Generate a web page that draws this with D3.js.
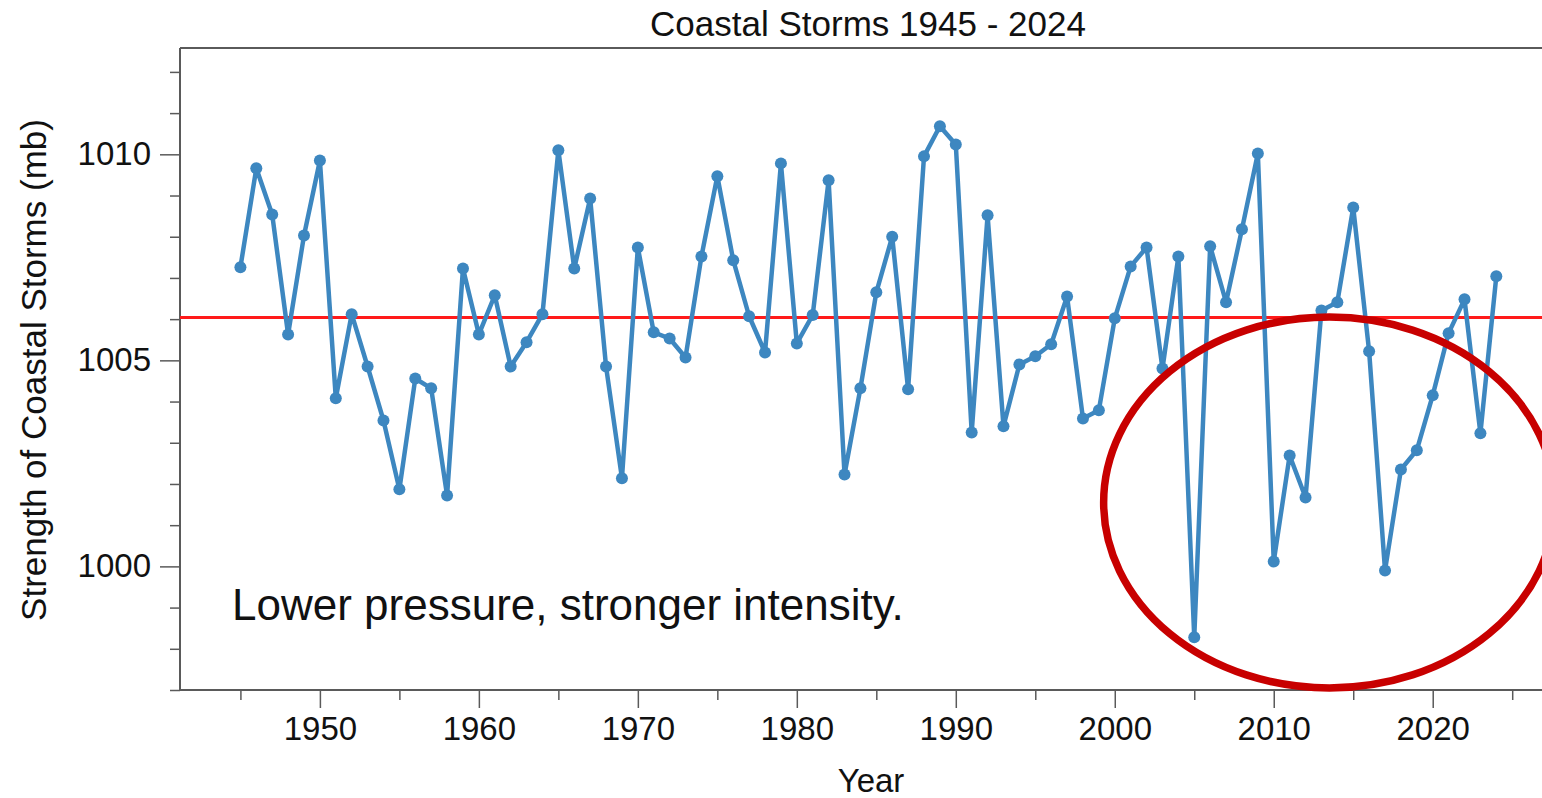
<!DOCTYPE html>
<html>
<head>
<meta charset="utf-8">
<script src="https://cdn.jsdelivr.net/npm/d3@7"></script>
<style>
  html, body { margin: 0; padding: 0; background: #fff; }
  svg { display: block; }
  text { font-family: "Liberation Sans", Arial, Helvetica, sans-serif; fill: #111; }
</style>
</head>
<body>
<svg id="chart" width="1542" height="798"></svg>
<script>
// ---- data ----
const years = d3.range(1945, 2025);
const pressure = [
  1007.26, 1009.66, 1008.54, 1005.63, 1008.03, 1009.85, 1004.08, 1006.12, 1004.85, 1003.54,
  1001.87, 1004.56, 1004.32, 1001.72, 1007.23, 1005.63, 1006.58, 1004.85, 1005.44, 1006.12,
  1010.10, 1007.23, 1008.93, 1004.85, 1002.14, 1007.74, 1005.68, 1005.53, 1005.07, 1007.52,
  1009.47, 1007.43, 1006.07, 1005.19, 1009.78, 1005.41, 1006.10, 1009.37, 1002.23, 1004.32,
  1006.65, 1008.00, 1004.30, 1009.95, 1010.68, 1010.24, 1003.25, 1008.52, 1003.40, 1004.90,
  1005.10, 1005.39, 1006.55, 1003.59, 1003.79, 1006.02, 1007.28, 1007.74, 1004.80, 1007.52,
   998.28, 1007.77, 1006.41, 1008.18, 1010.02, 1000.12, 1002.69, 1001.67, 1006.21, 1006.41,
  1008.71, 1005.22,  999.90, 1002.35, 1002.82, 1004.15, 1005.66, 1006.48, 1003.23, 1007.04
];
const meanLine = 1006.04;
const xMajorTicks = [1950, 1960, 1970, 1980, 1990, 2000, 2010, 2020];
const xMinorTicks = [1945, 1955, 1965, 1975, 1985, 1995, 2005, 2015, 2025];
const yMajorTicks = [1000, 1005, 1010];
const yMinorTicks = [997, 998, 999, 1001, 1002, 1003, 1004, 1006, 1007, 1008, 1009, 1011, 1012];
const titleText = "Coastal Storms 1945 - 2024";
const xLabel = "Year";
const yLabel = "Strength of Coastal Storms (mb)";
const noteText = "Lower pressure, stronger intensity.";
// highlighted region (ellipse): centre and half-extents in data units
const highlight = { cx: 2013.5, cy: 1001.55, rx: 14.2, ry: 4.5 };

const data = years.map((yr, i) => ({ year: yr, value: pressure[i] }));

// ---- layout ----
const svg = d3.select("#chart");
const plotLeft = 180, plotRight = 1544, plotTop = 48, plotBottom = 690;

const x = d3.scaleLinear().domain([1941.2, 2027.0]).range([plotLeft, plotRight]);
const y = d3.scaleLinear().domain([997.0, 1012.58]).range([plotBottom, plotTop]);

const axisColor = "#5a5a5a";

// frame top/right lines
svg.append("line")
  .attr("x1", plotLeft).attr("x2", plotRight).attr("y1", plotTop).attr("y2", plotTop)
  .attr("stroke", axisColor).attr("stroke-width", 2);
svg.append("line")
  .attr("x1", plotRight).attr("x2", plotRight).attr("y1", plotTop).attr("y2", plotBottom)
  .attr("stroke", axisColor).attr("stroke-width", 2);

// y axis
const gyMinor = svg.append("g").attr("transform", `translate(${plotLeft},0)`)
  .call(d3.axisLeft(y).tickValues(yMinorTicks).tickSize(10).tickFormat(""));
const gy = svg.append("g").attr("transform", `translate(${plotLeft},0)`)
  .call(d3.axisLeft(y).tickValues(yMajorTicks).tickSize(20).tickPadding(9).tickFormat(d3.format("d")));

// x axis
const gxMinor = svg.append("g").attr("transform", `translate(0,${plotBottom})`)
  .call(d3.axisBottom(x).tickValues(xMinorTicks).tickSize(10).tickFormat(""));
const gx = svg.append("g").attr("transform", `translate(0,${plotBottom})`)
  .call(d3.axisBottom(x).tickValues(xMajorTicks).tickSize(18).tickPadding(9).tickFormat(d3.format("d")));

[gy, gyMinor, gx, gxMinor].forEach(g => {
  g.select(".domain").attr("stroke", axisColor).attr("stroke-width", 2);
  g.selectAll(".tick line").attr("stroke", axisColor).attr("stroke-width", 1.5);
  g.selectAll(".tick text")
    .style("font-family", '"Liberation Sans", Arial, sans-serif')
    .style("font-size", "33px").attr("fill", "#111");
});
gy.select(".domain").attr("d", `M0,${plotTop}V${plotBottom}`);
gx.select(".domain").attr("d", `M${plotLeft},0H${plotRight}`);
gyMinor.select(".domain").remove();
gxMinor.select(".domain").remove();

// mean line
svg.append("line")
  .attr("x1", plotLeft).attr("x2", plotRight)
  .attr("y1", y(meanLine)).attr("y2", y(meanLine))
  .attr("stroke", "#ff1a1a").attr("stroke-width", 3);

// series line
const lineColor = "#3d87c0";
svg.append("path")
  .datum(data)
  .attr("fill", "none")
  .attr("stroke", lineColor)
  .attr("stroke-width", 4.5)
  .attr("stroke-linejoin", "round")
  .attr("d", d3.line().x(d => x(d.year)).y(d => y(d.value)));

svg.append("g").selectAll("circle")
  .data(data).join("circle")
  .attr("cx", d => x(d.year)).attr("cy", d => y(d.value))
  .attr("r", 6).attr("fill", lineColor);

// highlight ellipse
svg.append("ellipse")
  .attr("cx", x(highlight.cx)).attr("cy", y(highlight.cy))
  .attr("rx", x(highlight.cx + highlight.rx) - x(highlight.cx))
  .attr("ry", y(highlight.cy - highlight.ry) - y(highlight.cy))
  .attr("fill", "none").attr("stroke", "#c80000").attr("stroke-width", 7.5);

// annotation
svg.append("text")
  .attr("x", 232).attr("y", 620)
  .style("font-size", "44px")
  .text(noteText);

// title
svg.append("text")
  .attr("x", 868).attr("y", 36)
  .attr("text-anchor", "middle")
  .style("font-size", "35px")
  .text(titleText);

// axis labels
svg.append("text")
  .attr("x", 871).attr("y", 792)
  .attr("text-anchor", "middle")
  .style("font-size", "33px")
  .text(xLabel);

svg.append("text")
  .attr("transform", "translate(46,370) rotate(-90)")
  .attr("text-anchor", "middle")
  .style("font-size", "35px")
  .text(yLabel);
</script>
</body>
</html>
